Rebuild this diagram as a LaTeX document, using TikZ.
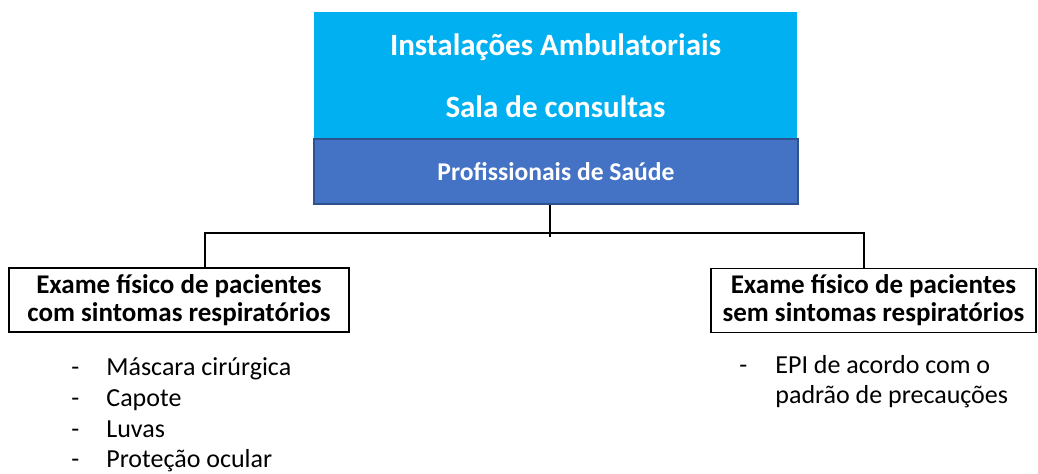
\documentclass[tikz,border=0pt]{standalone}
\usepackage{fontspec}
\setmainfont{Carlito}
\definecolor{skyfill}{HTML}{00B0F0}
\definecolor{staffill}{HTML}{4472C4}
\definecolor{staffline}{HTML}{2F528F}
\begin{document}
\begin{tikzpicture}[x=0.5pt,y=-0.5pt,
    topbox/.style = {fill=skyfill, text=white, font=\bfseries\fontsize{15.5}{31}\selectfont,
      align=center, minimum width=241.5pt, minimum height=63.5pt, inner sep=0pt},
    staffbox/.style = {draw=staffline, line width=0.6pt, fill=staffill, text=white,
      font=\bfseries\fontsize{12.8}{14}\selectfont, minimum width=242pt, minimum height=32.5pt, inner sep=0pt},
    exambox/.style = {draw, line width=0.8pt, align=center, font=\bfseries\fontsize{13.5}{14}\selectfont,
      minimum height=32pt, inner sep=0pt},
    itemlist/.style = {align=left, font=\fontsize{13}{15.4}\selectfont, inner sep=0pt}]
  \useasboundingbox (0,0) rectangle (1038,474);
  % boxes
  \node[topbox] (site) at (555.5,75.5) {Instalações Ambulatoriais\\Sala de consultas};
  \node[staffbox] (staff) at (556,171.5) {Profissionais de Saúde};
  \node[exambox, minimum width=170pt] (with) at (179,300) {Exame físico de pacientes\\com sintomas respiratórios};
  \node[exambox, minimum width=162.5pt] (without) at (873.5,300.5) {Exame físico de pacientes\\sem sintomas respiratórios};
  % lists (base = last line)
  \node[itemlist, anchor=base west] (withlist) at (71,468)
    {\makebox[17.5pt][l]{-}Máscara cirúrgica\\\makebox[17.5pt][l]{-}Capote\\
     \makebox[17.5pt][l]{-}Luvas\\\makebox[17.5pt][l]{-}Proteção ocular};
  \node[itemlist, anchor=base west] (withoutlist) at (739,404)
    {\makebox[18pt][l]{-}EPI de acordo com o\\\hspace*{18pt}padrão de precauções};
  % connectors
  \coordinate (hub) at (550,233);
  \coordinate (lj) at (205,233);
  \coordinate (rj) at (864,233);
  \draw[line width=0.8pt] (staff.south -| hub) -- ([yshift=-2pt]hub);
  \draw[line width=0.8pt] (with.north -| lj) -- (lj) -- (rj) -- (without.north -| rj);
\end{tikzpicture}
\end{document}
